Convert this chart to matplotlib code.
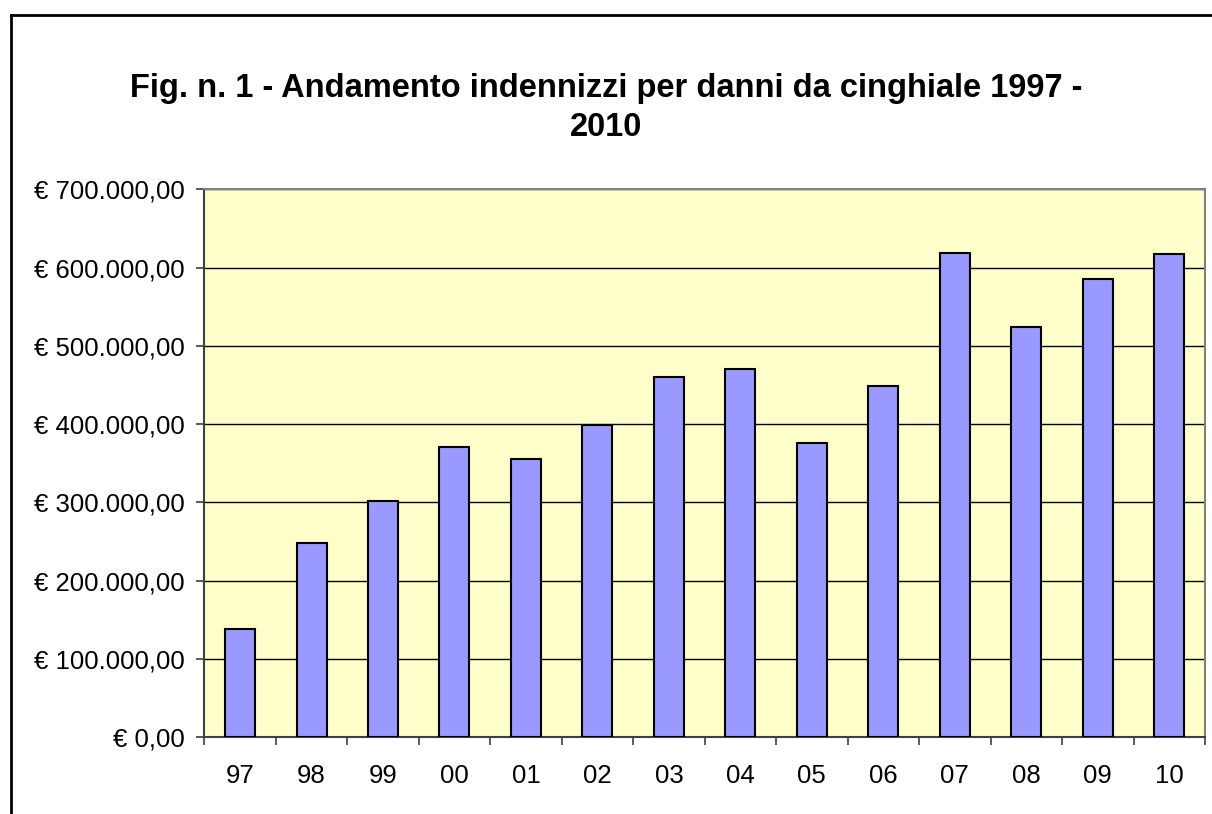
import matplotlib.pyplot as plt
from matplotlib.lines import Line2D
from matplotlib.ticker import FuncFormatter, MultipleLocator
import numpy as np

anni = ['97', '98', '99', '00', '01', '02', '03', '04', '05', '06', '07', '08', '09', '10']
indennizzi = [138000, 248000, 301500, 370500, 356000, 399000, 460500, 470500,
              376000, 449000, 619000, 524500, 586000, 617000]

plt.rcParams['font.family'] = ['Liberation Sans', 'DejaVu Sans']

fig = plt.figure(figsize=(12.12, 8.14), dpi=100)
fig.patch.set_facecolor('white')

# cornice esterna (solo sinistra e alto, il resto esce dall'immagine)
fig.add_artist(Line2D([11/1212, 11/1212], [0, 1 - 15/814], transform=fig.transFigure,
                      color='black', lw=2))
fig.add_artist(Line2D([11/1212, 1], [1 - 15/814, 1 - 15/814], transform=fig.transFigure,
                      color='black', lw=2))

ax = fig.add_axes([204.3/1212, 76.7/814, (1205 - 204.3)/1212, (737.3 - 189.3)/814])
ax.set_facecolor('#FFFFCC')

x = np.arange(len(anni))
ax.bar(x, indennizzi, width=0.42, color='#9999FF', edgecolor='black', linewidth=1.5, zorder=3)

ax.set_xlim(-0.5, len(anni) - 0.5)
ax.set_ylim(0, 700000)
ax.yaxis.set_major_locator(MultipleLocator(100000))


def euro(v, pos):
    s = '{:,.2f}'.format(v)
    s = s.replace(',', 'X').replace('.', ',').replace('X', '.')
    return '€ ' + s


ax.yaxis.set_major_formatter(FuncFormatter(euro))
ax.grid(axis='y', color='black', lw=1, zorder=1)

ax.set_xticks(x)
ax.set_xticklabels(anni)
ax.set_xticks(np.arange(len(anni) + 1) - 0.5, minor=True)
ax.tick_params(axis='x', which='major', length=0, pad=19, labelsize=18.5)
ax.tick_params(axis='x', which='minor', length=6, width=1.2, color='#404040', direction='out')
ax.tick_params(axis='y', length=6, width=1.2, color='#404040', pad=8, labelsize=18.5)

for s in ['left', 'bottom']:
    ax.spines[s].set_color('#404040')
    ax.spines[s].set_linewidth(1.5)
for s in ['top', 'right']:
    ax.spines[s].set_color('#808080')
    ax.spines[s].set_linewidth(1.5)

fig.text(0.5, 1 - 88/814, 'Fig. n. 1 - Andamento indennizzi per danni da cinghiale 1997 -',
         ha='center', va='center', fontsize=23.5, fontweight='bold')
fig.text(0.5, 1 - 127/814, '2010', ha='center', va='center', fontsize=23.5, fontweight='bold')

fig.savefig('out.png', dpi=100)
